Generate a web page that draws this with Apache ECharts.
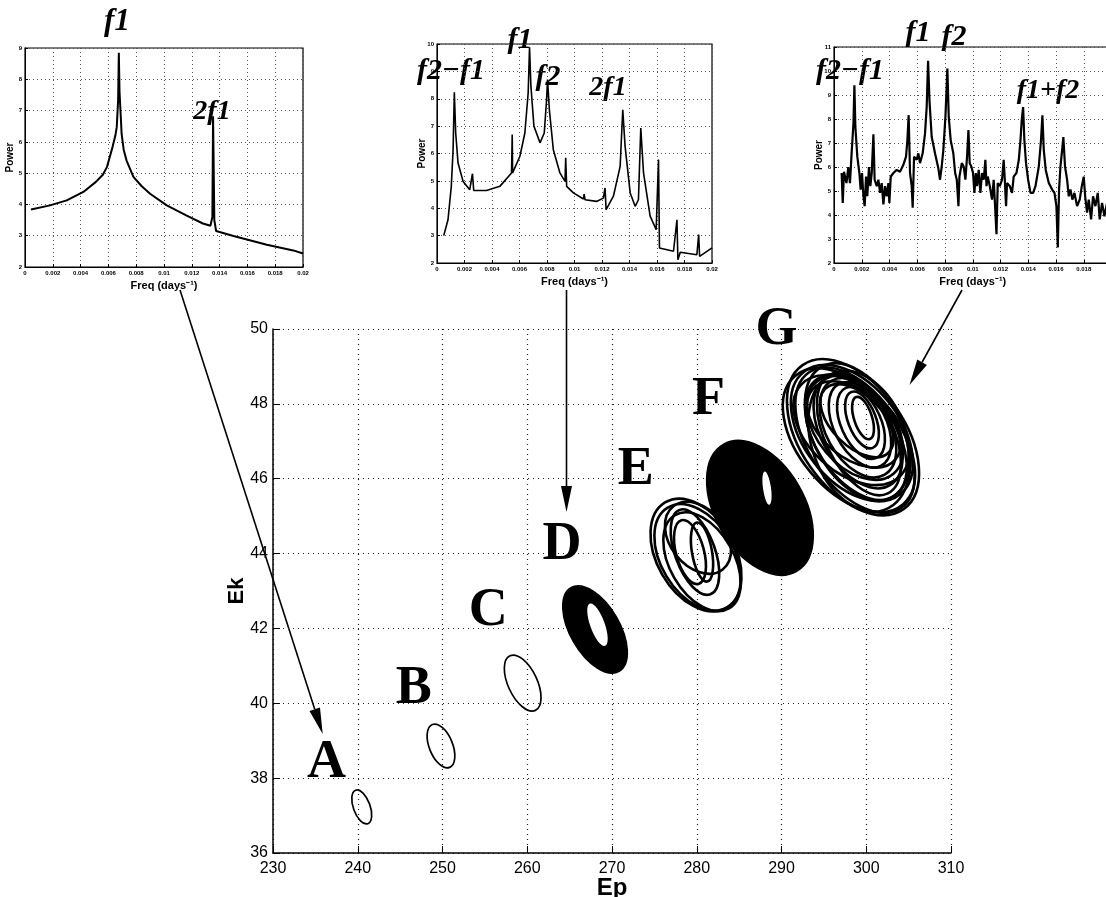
<!DOCTYPE html>
<html>
<head>
<meta charset="utf-8">
<script src="https://cdn.jsdelivr.net/npm/echarts@6/dist/echarts.min.js"></script>
<style>
  html, body { margin: 0; background: #fff; }
  #chart { width: 1106px; height: 897px; }
</style>
</head>
<body>
<div id="chart"></div>
<script>
/* ---------- spectra (insets) ---------- */
const spec1Freq = [0.00043, 0.0018, 0.003, 0.0042, 0.0051, 0.0056, 0.0059, 0.0063, 0.0065, 0.0066, 0.0067, 0.00675, 0.0068, 0.00688, 0.00695, 0.0071, 0.0073, 0.0078, 0.0084, 0.009, 0.0102, 0.0116, 0.0128, 0.01334, 0.01348, 0.01353, 0.01362, 0.01375, 0.015, 0.0174, 0.0193, 0.02]
const spec1Power = [3.84, 3.97, 4.13, 4.40, 4.72, 4.95, 5.20, 5.84, 6.2, 6.47, 7.33, 8.85, 7.6, 6.9, 6.26, 5.75, 5.41, 4.88, 4.58, 4.34, 3.97, 3.65, 3.39, 3.32, 3.6, 6.82, 3.5, 3.15, 2.99, 2.71, 2.53, 2.43]

const spec2Freq = [0.00049, 0.0008, 0.00104, 0.00117, 0.00126, 0.00136, 0.00153, 0.0019, 0.00238, 0.00258, 0.00267, 0.0036, 0.00457, 0.00542, 0.00547, 0.0055, 0.00603, 0.00639, 0.00663, 0.00673, 0.00683, 0.00705, 0.00749, 0.0078, 0.00797, 0.00804, 0.00817, 0.00846, 0.00894, 0.00931, 0.00936, 0.00943, 0.00992, 0.01065, 0.0107, 0.01077, 0.0116, 0.0121, 0.01222, 0.0123, 0.01283, 0.01332, 0.01351, 0.01368, 0.01405, 0.01441, 0.01465, 0.01482, 0.01502, 0.0155, 0.01594, 0.01611, 0.01618, 0.0172, 0.01745, 0.01752, 0.01769, 0.0189, 0.01903, 0.0191, 0.02]
const spec2Power = [3.0, 3.58, 4.80, 6.14, 8.24, 6.75, 5.65, 4.98, 4.68, 5.26, 4.65, 4.65, 4.80, 5.29, 6.69, 5.29, 5.90, 6.75, 8.21, 9.88, 8.46, 7.0, 6.39, 6.75, 7.97, 8.70, 7.60, 6.14, 5.29, 4.98, 5.84, 4.80, 4.56, 4.34, 4.52, 4.31, 4.25, 4.37, 4.74, 3.95, 4.44, 5.53, 7.60, 6.26, 4.56, 4.07, 4.31, 6.93, 5.29, 3.71, 3.22, 5.78, 2.55, 2.43, 3.58, 2.12, 2.39, 2.30, 3.04, 2.24, 2.55]

const spec3Freq = [0.00055, 0.00063, 0.00072, 0.0009, 0.00103, 0.00115, 0.00127, 0.0014, 0.00147, 0.00154, 0.00168, 0.00183, 0.00192, 0.00202, 0.00212, 0.00221, 0.00231, 0.0024, 0.00252, 0.00262, 0.00272, 0.00284, 0.00293, 0.00308, 0.0032, 0.00332, 0.00344, 0.00356, 0.00368, 0.0038, 0.00392, 0.00399, 0.00409, 0.00428, 0.00452, 0.00476, 0.005, 0.00519, 0.00529, 0.00538, 0.00548, 0.0056, 0.00567, 0.00577, 0.00596, 0.00608, 0.0062, 0.00639, 0.00656, 0.00668, 0.00678, 0.00688, 0.00704, 0.00728, 0.00752, 0.00764, 0.00776, 0.00788, 0.00803, 0.00812, 0.00817, 0.00827, 0.00841, 0.0086, 0.00873, 0.00885, 0.00897, 0.00904, 0.00921, 0.00935, 0.00947, 0.00959, 0.00969, 0.00978, 0.0099, 0.01002, 0.01012, 0.01022, 0.01031, 0.01043, 0.01055, 0.01067, 0.01079, 0.01091, 0.01099, 0.01108, 0.01123, 0.01139, 0.01151, 0.01161, 0.01171, 0.0118, 0.01195, 0.01211, 0.01223, 0.01231, 0.0124, 0.01247, 0.01267, 0.01283, 0.01295, 0.01315, 0.01332, 0.01344, 0.01353, 0.01363, 0.01372, 0.01384, 0.01399, 0.01416, 0.01435, 0.01452, 0.01476, 0.01492, 0.01502, 0.01512, 0.01526, 0.01548, 0.01572, 0.01589, 0.01603, 0.01613, 0.01622, 0.01632, 0.01644, 0.01653, 0.01665, 0.0168, 0.01692, 0.01704, 0.01718, 0.01733, 0.01752, 0.01771, 0.01786, 0.018, 0.0181, 0.01824, 0.01836, 0.01853, 0.01867, 0.01884, 0.01901, 0.01915, 0.01932, 0.01949, 0.01968]
const spec3Power = [5.75, 4.5, 5.8, 5.33, 6.0, 5.33, 6.57, 7.8, 9.4, 7.67, 6.43, 5.75, 5.06, 5.75, 4.78, 4.37, 5.6, 4.78, 6.0, 5.2, 5.75, 7.36, 5.47, 5.2, 5.47, 4.92, 5.33, 4.44, 5.2, 4.78, 5.33, 4.5, 5.6, 5.75, 5.88, 5.8, 6.09, 6.43, 7.12, 8.16, 5.75, 5.2, 4.3, 6.43, 6.3, 6.57, 6.16, 6.57, 7.4, 8.5, 10.43, 8.78, 7.26, 6.57, 5.95, 5.47, 6.0, 6.7, 8.09, 9.33, 10.1, 8.09, 7.12, 6.57, 5.75, 5.47, 4.37, 5.6, 6.16, 6.02, 5.47, 6.43, 7.54, 6.16, 6.02, 5.75, 4.92, 5.75, 5.2, 5.88, 4.92, 5.75, 5.47, 6.3, 5.2, 5.6, 5.2, 4.64, 5.47, 4.37, 3.2, 5.33, 5.2, 5.47, 6.3, 5.47, 4.37, 5.33, 5.2, 4.92, 5.6, 5.75, 6.3, 7.12, 7.95, 8.5, 7.12, 6.16, 5.47, 4.92, 4.92, 5.2, 6.02, 7.12, 8.15, 6.7, 5.88, 5.33, 5.06, 4.92, 4.37, 2.65, 5.06, 6.02, 6.7, 7.25, 6.02, 5.47, 4.78, 5.06, 4.64, 4.92, 4.37, 4.64, 5.2, 5.6, 4.78, 4.1, 4.64, 3.82, 4.78, 4.37, 4.92, 3.82, 4.5, 3.95, 4.5]

/* ---------- orbits in the Ep–Ek plane ----------
   each row: [Ep centre, Ek centre, half-width (Ep), half-height (Ek), tilt deg] */
const orbitsABC = [
  [240.47, 37.23, 0.99, 0.476, 20],
  [249.82, 38.86, 1.38, 0.617, 22],
  [259.46, 40.54, 1.72, 0.805, 25]
]
const orbitsFilled = [        // D and F (dense bundles)
  [268.0, 41.97, 2.93, 1.29, 30],
  [287.46, 45.22, 5.28, 1.96, 30]
]
const orbitsHoles = [
  [268.29, 42.10, 0.85, 0.60, 20],
  [288.29, 45.75, 0.47, 0.45, 8]
]
const orbitsE = [
  [279.91, 43.96, 4.60, 1.63, 30],
  [280.10, 43.90, 4.30, 1.55, 31],
  [280.62, 43.78, 3.78, 1.44, 30],
  [279.79, 44.04, 2.36, 1.20, 20],
  [279.20, 44.04, 1.65, 0.88, 15],
  [280.15, 44.42, 3.30, 1.07, 38],
  [280.62, 44.04, 1.18, 0.80, 10]
]
const orbitsG = [
  [298.44, 47.11, 6.14, 2.35, 35],
  [298.67, 47.03, 5.43, 2.19, 34],
  [298.31, 47.22, 5.66, 2.08, 38],
  [298.79, 47.11, 4.72, 1.87, 33],
  [299.03, 47.25, 4.25, 1.66, 31],
  [299.03, 47.36, 3.78, 1.44, 29],
  [299.26, 47.44, 3.07, 1.23, 27],
  [299.38, 47.49, 2.36, 1.02, 24],
  [299.50, 47.57, 1.65, 0.80, 21],
  [299.62, 47.62, 1.06, 0.59, 18],
  [297.96, 47.03, 5.90, 2.24, 40],
  [298.91, 47.25, 5.19, 1.98, 28],
  [298.67, 47.36, 4.48, 1.60, 40],
  [299.14, 47.19, 4.01, 1.76, 26],
  [298.20, 47.30, 5.00, 1.80, 48],
  [298.55, 47.45, 3.90, 1.45, 50],
  [299.20, 47.00, 5.60, 1.95, 20],
  [298.90, 47.55, 3.00, 1.20, 45]
]

const caseNames = ['A', 'B', 'C', 'D', 'E', 'F', 'G']
const caseEp = [236.3, 246.6, 255.4, 264.1, 272.8, 281.4, 289.4]
const caseEk = [38.4, 40.38, 42.47, 44.23, 46.23, 48.10, 49.97]

/* ---------- helpers ---------- */
const zip = (a, b) => a.map((v, i) => [v, b[i]])

function ellipseRenderer(fill, stroke, lw) {
  return function (params, api) {
    const c = api.coord([api.value(0), api.value(1)])
    const rx = api.size([api.value(2), 0])[0]
    const ry = api.size([0, api.value(3)])[1]
    return {
      type: 'ellipse',
      x: c[0], y: c[1],
      rotation: api.value(4) * Math.PI / 180,
      shape: { cx: 0, cy: 0, rx: rx, ry: ry },
      style: { fill: fill, stroke: stroke, lineWidth: lw }
    }
  }
}

function orbitSeries(data, fill, stroke, lw) {
  return {
    type: 'custom', xAxisIndex: 0, yAxisIndex: 0,
    encode: { x: 0, y: 1 },
    renderItem: ellipseRenderer(fill, stroke, lw),
    data: data, silent: true, clip: false
  }
}

function arrow(x1, y1, x2, y2) {
  const len = Math.hypot(x2 - x1, y2 - y1)
  const ux = (x2 - x1) / len, uy = (y2 - y1) / len
  const hl = 26, hw = 5.5
  const bx = x2 - ux * hl, by = y2 - uy * hl
  return [
    { type: 'line', shape: { x1: x1, y1: y1, x2: bx, y2: by }, style: { stroke: '#000', lineWidth: 1.6 } },
    { type: 'polygon', shape: { points: [[x2, y2], [bx - uy * hw, by + ux * hw], [bx + uy * hw, by - ux * hw]] }, style: { fill: '#000' } }
  ]
}

function peakLabel(text, x, y, size) {
  return {
    type: 'text', x: x, y: y,
    style: {
      text: text, fill: '#000', align: 'center', verticalAlign: 'middle',
      font: 'italic bold ' + size + 'px "Liberation Serif", "Times New Roman", serif'
    }
  }
}

/* ---------- axes ---------- */
const insetGrids = [
  { left: 25, top: 48, width: 278, height: 219 },
  { left: 437, top: 44, width: 275, height: 219 },
  { left: 834, top: 47, width: 277.5, height: 216 }
]
const insetYMax = [9, 10, 11]

const grids = [{ left: 273, top: 329, width: 678, height: 524, outerBoundsMode: 'none' }]
  .concat(insetGrids.map(g => Object.assign({ show: true, borderColor: '#000', borderWidth: 1.2, backgroundColor: '#fff', outerBoundsMode: 'none' }, g)))

const xAxes = [{
  gridIndex: 0, type: 'value', min: 230, max: 310, interval: 10,
  name: 'Ep', nameLocation: 'middle', nameGap: 23, nameMoveOverlap: false,
  nameTextStyle: { fontFamily: 'Liberation Sans', fontWeight: 'bold', fontSize: 24, color: '#000' },
  axisLine: { lineStyle: { color: '#000', width: 1.5 } },
  axisTick: { inside: true, length: 7, lineStyle: { color: '#000' } },
  axisLabel: { fontFamily: 'Liberation Sans', fontSize: 16, color: '#000', margin: 8 },
  splitLine: { lineStyle: { type: [1, 4], color: '#222', width: 1.2 } }
}]
const yAxes = [{
  gridIndex: 0, type: 'value', min: 36, max: 50, interval: 2,
  name: 'Ek', nameLocation: 'middle', nameGap: 25, nameRotate: 90, nameMoveOverlap: false,
  nameTextStyle: { fontFamily: 'Liberation Sans', fontWeight: 'bold', fontSize: 22, color: '#000' },
  axisLine: { lineStyle: { color: '#000', width: 1.5 } },
  axisTick: { inside: true, length: 7, lineStyle: { color: '#000' } },
  axisLabel: { fontFamily: 'Liberation Sans', fontSize: 16, color: '#000', margin: 5 },
  splitLine: { lineStyle: { type: [1, 4], color: '#222', width: 1.2 } }
}]

insetGrids.forEach((g, i) => {
  xAxes.push({
    gridIndex: i + 1, type: 'value', min: 0, max: 0.02, interval: 0.002,
    name: 'Freq (days⁻¹)', nameLocation: 'middle', nameGap: 13, nameMoveOverlap: false,
    nameTextStyle: { fontFamily: 'Liberation Sans', fontWeight: 'bold', fontSize: 11, color: '#000' },
    axisLine: { lineStyle: { color: '#000' } },
    axisTick: { inside: true, length: 3, lineStyle: { color: '#000' } },
    axisLabel: { fontSize: 6, color: '#000', margin: 3, fontWeight: 'bold' },
    splitLine: { lineStyle: { type: [1, 3], color: '#555' } }
  })
  yAxes.push({
    gridIndex: i + 1, type: 'value', min: 2, max: insetYMax[i], interval: 1,
    name: 'Power', nameLocation: 'middle', nameGap: 10, nameRotate: 90, nameMoveOverlap: false,
    nameTextStyle: { fontFamily: 'Liberation Sans', fontWeight: 'bold', fontSize: 10, color: '#000' },
    axisLine: { lineStyle: { color: '#000' } },
    axisTick: { inside: true, length: 3, lineStyle: { color: '#000' } },
    axisLabel: { fontSize: 6, color: '#000', margin: 3, fontWeight: 'bold' },
    splitLine: { lineStyle: { type: [1, 3], color: '#555' } }
  })
})

function spectrumSeries(idx, freq, power, lw) {
  return {
    type: 'line', xAxisIndex: idx, yAxisIndex: idx,
    data: zip(freq, power), showSymbol: false, symbol: 'none',
    lineStyle: { color: '#000', width: lw }, silent: true, animation: false
  }
}

/* ---------- chart ---------- */
const chart = echarts.init(document.getElementById('chart'), null, { renderer: 'canvas' })

chart.setOption({
  animation: false,
  backgroundColor: '#fff',
  grid: grids,
  xAxis: xAxes,
  yAxis: yAxes,
  series: [
    spectrumSeries(1, spec1Freq, spec1Power, 2),
    spectrumSeries(2, spec2Freq, spec2Power, 1.6),
    spectrumSeries(3, spec3Freq, spec3Power, 2.2),
    orbitSeries(orbitsABC, 'none', '#000', 1.7),
    orbitSeries(orbitsFilled, '#000', '#000', 1.5),
    orbitSeries(orbitsHoles, '#fff', '#fff', 0),
    orbitSeries(orbitsE, 'none', '#000', 2.6),
    orbitSeries(orbitsG, 'none', '#000', 2.6),
    {
      type: 'scatter', xAxisIndex: 0, yAxisIndex: 0, symbolSize: 0, clip: false, silent: true,
      itemStyle: { opacity: 1 },
      data: caseNames.map((n, i) => ({ name: n, value: [caseEp[i], caseEk[i]] })),
      label: {
        show: true, position: 'inside', formatter: p => p.name, color: '#000', opacity: 1,
        fontFamily: 'Liberation Serif', fontWeight: 'bold', fontSize: 54
      }
    }
  ],
  graphic: [].concat(
    arrow(180, 290, 322.7, 734),
    arrow(566.5, 290, 566.5, 512),
    arrow(962, 290, 909.5, 385),
    [
      peakLabel('f1', 117, 22, 31),
      peakLabel('2f1', 212, 112, 28),
      peakLabel('f2−f1', 451, 71, 30),
      peakLabel('f1', 520, 40, 30),
      peakLabel('f2', 548, 77, 30),
      peakLabel('2f1', 608, 88, 28),
      peakLabel('f1', 918, 33, 30),
      peakLabel('f2', 954, 37, 30),
      peakLabel('f2−f1', 850, 71, 30),
      peakLabel('f1+f2', 1048, 91, 28)
    ]
  )
})
</script>
</body>
</html>
